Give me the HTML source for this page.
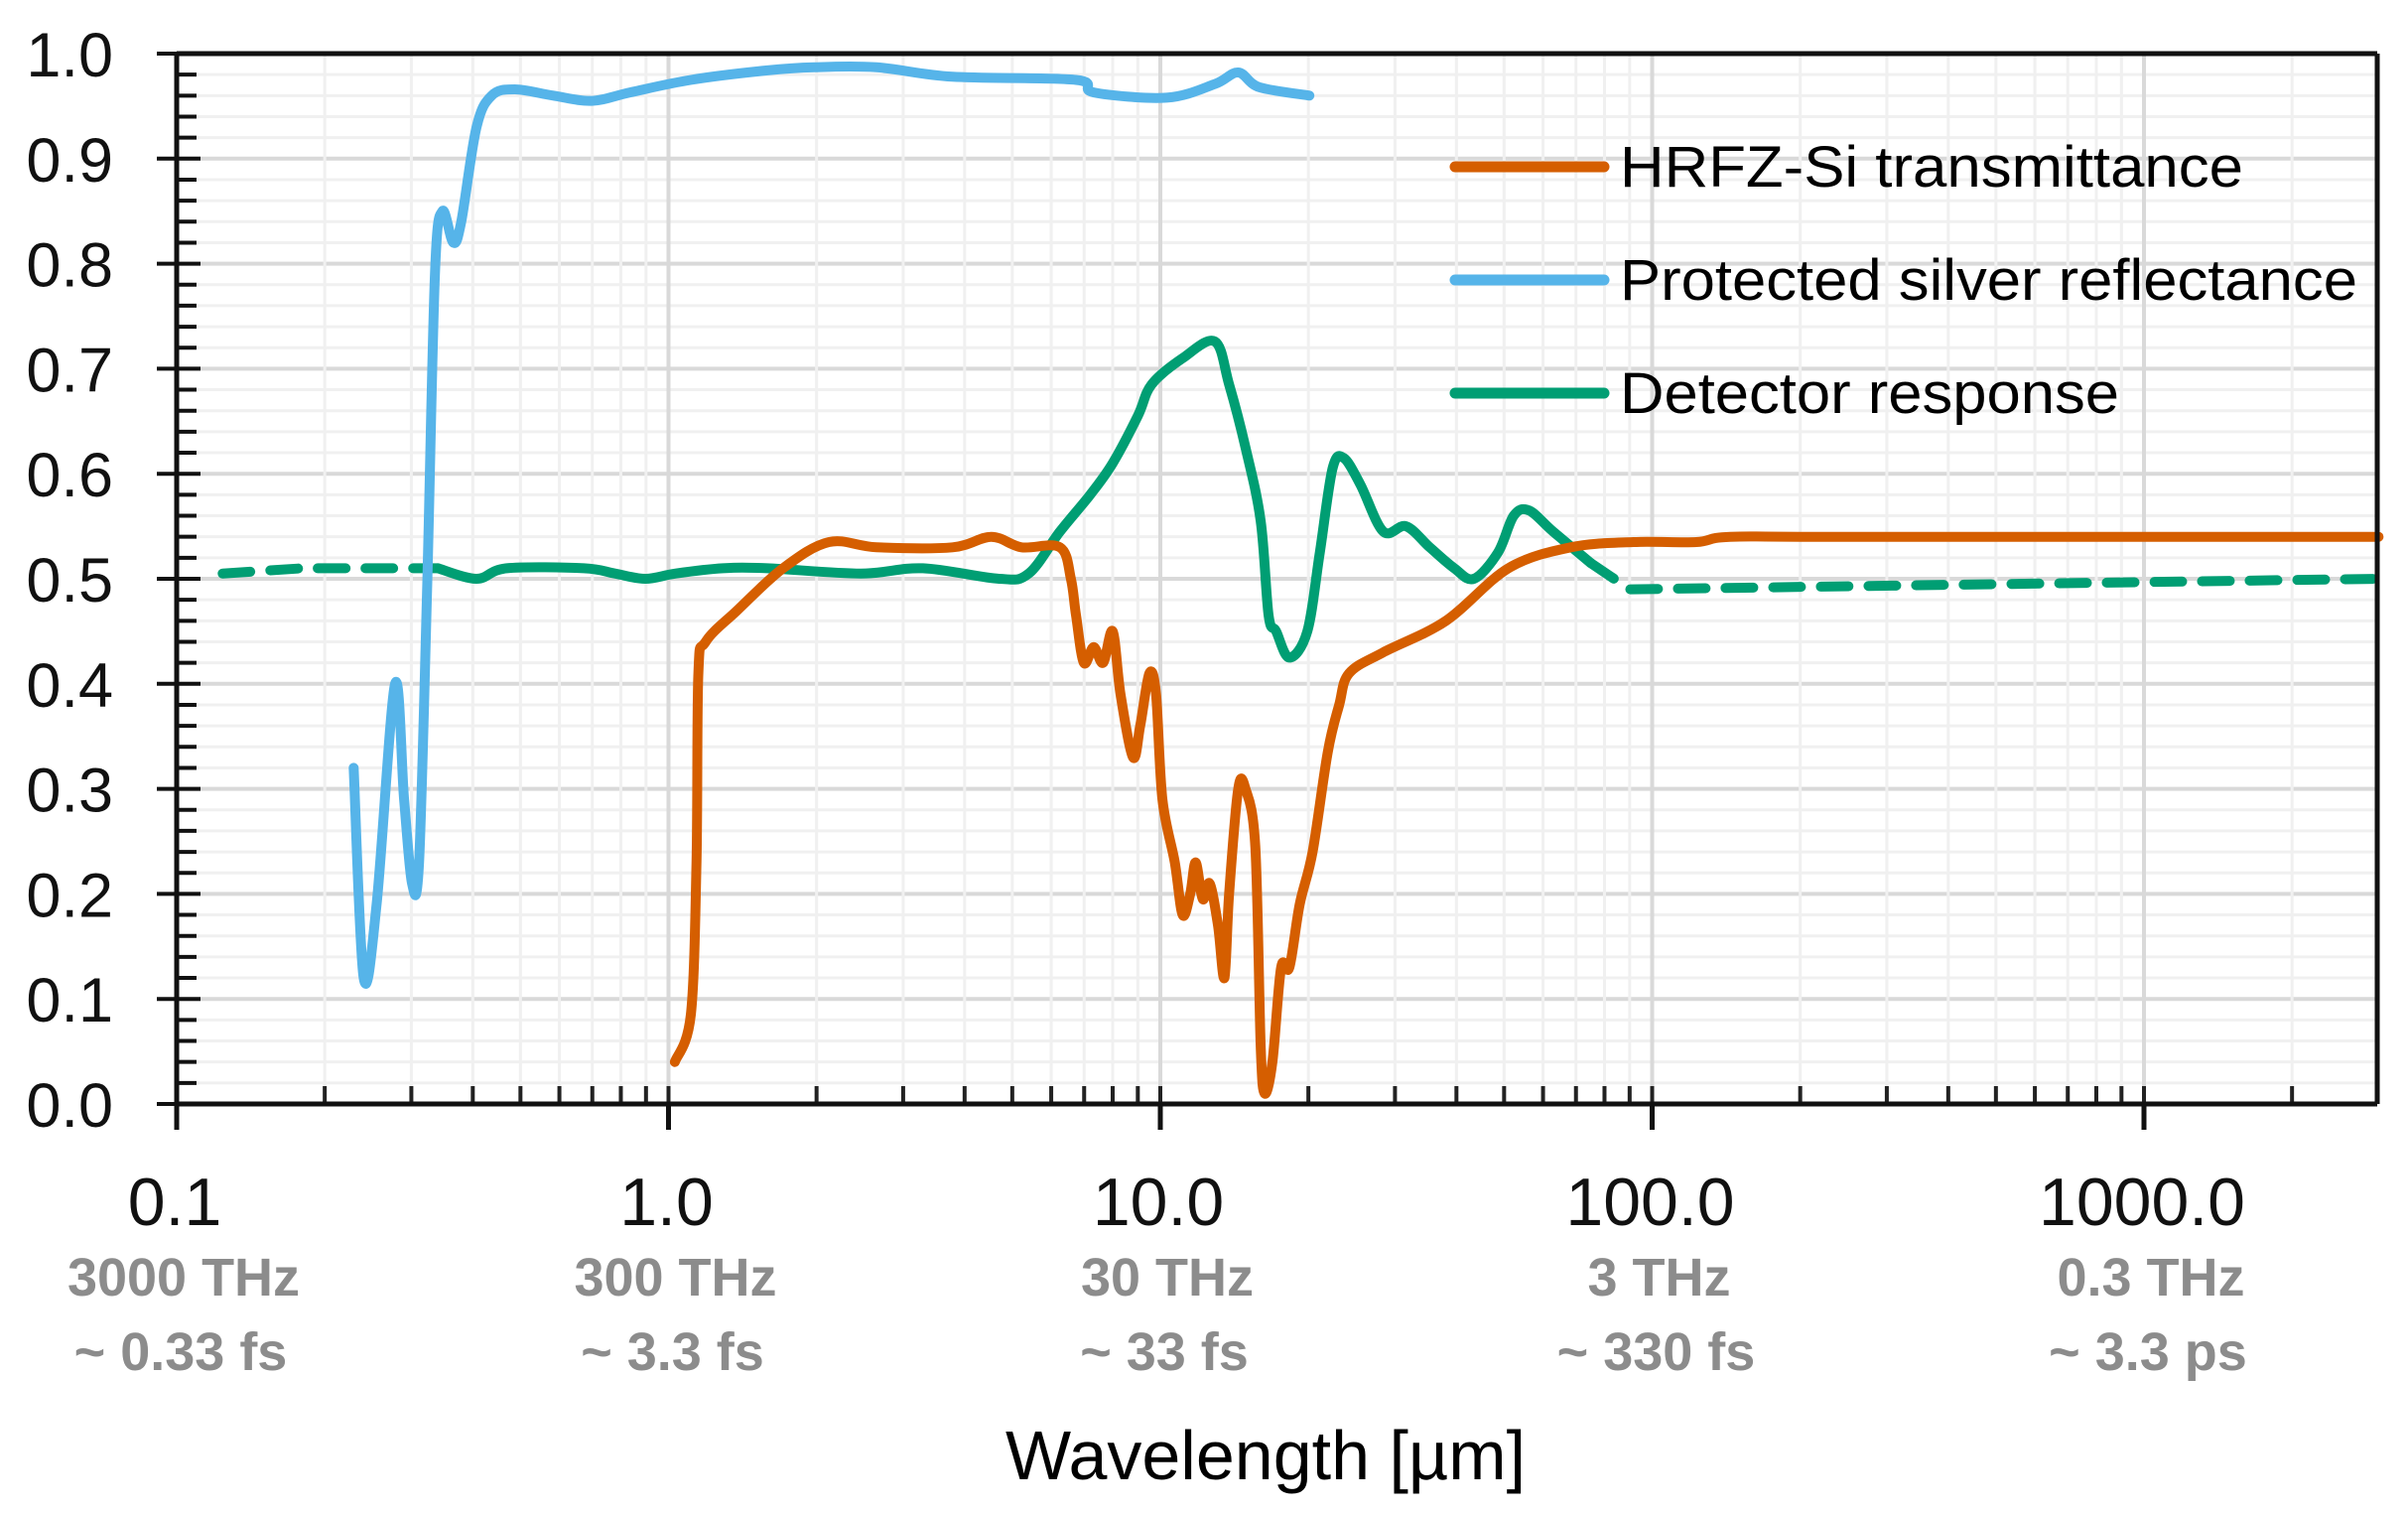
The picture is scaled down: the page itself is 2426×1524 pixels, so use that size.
<!DOCTYPE html>
<html><head><meta charset="utf-8"><style>
html,body{margin:0;padding:0;background:#fff;}
svg{display:block;}
text{font-family:"Liberation Sans",sans-serif;}
</style></head><body>
<svg id="chart" width="2426" height="1524" viewBox="0 0 2426 1524" xmlns="http://www.w3.org/2000/svg">
<g id="grid"></g>
<g id="series"></g>
<g id="axes"></g>
<g id="legend">
 <line x1="1466" y1="168" x2="1616" y2="168" stroke="#d55e00" stroke-width="11" stroke-linecap="round"/>
 <text x="1632" y="188" font-size="58" textLength="628" lengthAdjust="spacingAndGlyphs">HRFZ-Si transmittance</text>
 <line x1="1466" y1="282" x2="1616" y2="282" stroke="#56b4e9" stroke-width="11" stroke-linecap="round"/>
 <text x="1632" y="302" font-size="58" textLength="743" lengthAdjust="spacingAndGlyphs">Protected silver reflectance</text>
 <line x1="1466" y1="396" x2="1616" y2="396" stroke="#009e73" stroke-width="11" stroke-linecap="round"/>
 <text x="1632" y="416" font-size="58" textLength="503" lengthAdjust="spacingAndGlyphs">Detector response</text>
</g>
<text x="1275" y="1490" font-size="70" text-anchor="middle">Wavelength [µm]</text>
</svg>
<script>
const NS="http://www.w3.org/2000/svg";
const xTicks=[0.1,1,10,100,1000];
const xTickLabels=["0.1","1.0","10.0","100.0","1000.0"];
const freqLabels=["3000 THz","300 THz","30 THz","3 THz","0.3 THz"];
const timeLabels=["~ 0.33 fs","~ 3.3 fs","~ 33 fs","~ 330 fs","~ 3.3 ps"];
const yTicks=[0,0.1,0.2,0.3,0.4,0.5,0.6,0.7,0.8,0.9,1.0];
const siX=[1.03,1.11,1.14,1.15,1.19,1.38,1.71,2.12,2.65,3.78,4.53,5.22,6.25,6.58,6.74,6.99,7.32,7.65,8.0,8.3,8.8,9.1,9.5,9.8,10.1,10.7,11.1,11.5,11.8,12.2,12.6,13.1,13.5,13.8,14.4,14.9,15.6,16.0,16.3,16.9,17.6,18.3,19.2,20.4,21.9,23.1,24.2,28.4,38.1,51.0,68.3,91.6,123,144,245,3000];
const siY=[0.04,0.085,0.23,0.41,0.44,0.47,0.51,0.535,0.53,0.53,0.54,0.53,0.53,0.50,0.465,0.42,0.435,0.42,0.45,0.39,0.33,0.36,0.41,0.39,0.29,0.23,0.18,0.20,0.23,0.195,0.21,0.17,0.12,0.20,0.30,0.30,0.245,0.055,0.01,0.04,0.13,0.13,0.19,0.24,0.335,0.38,0.41,0.43,0.46,0.51,0.53,0.535,0.535,0.54,0.54,0.54];
const agX=[0.229,0.240,0.255,0.278,0.290,0.301,0.311,0.323,0.335,0.347,0.365,0.379,0.407,0.437,0.487,0.583,0.698,0.835,1.11,1.59,1.98,2.65,3.78,6.74,7.32,10.3,12.9,14.4,15.9,20.1];
const agY=[0.32,0.12,0.19,0.40,0.29,0.21,0.23,0.49,0.79,0.85,0.82,0.84,0.93,0.96,0.966,0.96,0.955,0.963,0.975,0.984,0.987,0.987,0.978,0.975,0.963,0.958,0.971,0.982,0.968,0.96];
const detX=[0.34,0.407,0.469,0.673,0.778,0.897,1.034,1.29,1.59,2.46,3.29,4.7,5.4,6.25,7.2,8.0,9.0,9.6,11.1,12.9,13.8,14.9,16.0,16.6,17.2,18.3,19.9,21.1,22.4,23.6,25.5,28.4,31.6,35.3,39.6,43.4,48.6,52.3,56.2,62.9,75];
const detY=[0.51,0.50,0.51,0.51,0.505,0.50,0.505,0.51,0.51,0.505,0.51,0.50,0.505,0.545,0.58,0.61,0.655,0.685,0.71,0.726,0.685,0.625,0.555,0.465,0.45,0.425,0.45,0.525,0.605,0.615,0.59,0.545,0.55,0.53,0.51,0.50,0.525,0.56,0.565,0.545,0.515];
const detDashLX=[0.124,0.18,0.25,0.34];
const detDashLY=[0.505,0.51,0.51,0.51];
const detDashRX=[75,90,3000];
const detDashRY=[0.515,0.49,0.50];

const X0=178,DEC=495.5,Y0=1112,Y1=54,XMAX=2395;
function sx(v){return X0+(Math.log10(v)+1)*DEC;}
function sy(v){return Y0-(Y0-Y1)*v;}
function mk(tag,attrs,parent){const e=document.createElementNS(NS,tag);for(const k in attrs)e.setAttribute(k,attrs[k]);parent.appendChild(e);return e;}
const grid=document.getElementById('grid'),axes=document.getElementById('axes'),series=document.getElementById('series');
for(let i=1;i<=50;i++){const v=i*0.02;const major=i%5===0;
 const l=mk('line',{x1:X0,x2:XMAX,y1:sy(v),y2:sy(v),stroke:major?'#d9d9d9':'#f0f0f0','stroke-width':major?4:3},grid);
 
 }
for(let d=-1;d<=3;d++){for(let m=1;m<=9;m++){const v=m*Math.pow(10,d);const px=sx(v);if(px>XMAX-1||px<X0+1)continue;
 const l=mk('line',{x1:px,x2:px,y1:Y1,y2:Y0,stroke:m===1?'#d9d9d9':'#f0f0f0','stroke-width':m===1?4:3},grid);
 
 
 const t=mk('line',{x1:px,x2:px,y1:Y0,y2:Y0-18,stroke:'#222','stroke-width':4},axes);
 
 }}
function path(xs,ys,color,dash,name){
 const P=xs.map((x,i)=>[sx(x),sy(ys[i])]);
 let d='M'+P[0][0].toFixed(1)+' '+P[0][1].toFixed(1);
 for(let i=0;i<P.length-1;i++){const p0=P[i-1]||P[i],p1=P[i],p2=P[i+1],p3=P[i+2]||p2;const k=dash?0:1/6;
  const c1=[p1[0]+(p2[0]-p0[0])*k,p1[1]+(p2[1]-p0[1])*k],c2=[p2[0]-(p3[0]-p1[0])*k,p2[1]-(p3[1]-p1[1])*k];
  d+='C'+c1[0].toFixed(1)+' '+c1[1].toFixed(1)+' '+c2[0].toFixed(1)+' '+c2[1].toFixed(1)+' '+p2[0].toFixed(1)+' '+p2[1].toFixed(1);}
 const p=mk('path',{d:d,fill:'none',stroke:color,'stroke-width':10,'stroke-linejoin':'round','stroke-linecap':'round'},series);
 if(dash)p.setAttribute('stroke-dasharray','28 20');
 
 }
path(detDashLX,detDashLY,'#009e73',true,'detector-dashed-left');
path(detDashRX,detDashRY,'#009e73',true,'detector-dashed-right');
path(detX,detY,'#009e73',false,'detector-response-line');
path(siX,siY,'#d55e00',false,'hrfz-si-line');
path(agX,agY,'#56b4e9',false,'silver-reflectance-line');
const fr=[[X0,Y1,XMAX,Y1],[XMAX,Y1,XMAX,Y0],[X0,Y1,X0,Y0],[X0,Y0,XMAX,Y0]];
fr.forEach(f=>{const l=mk('line',{x1:f[0],y1:f[1],x2:f[2],y2:f[3],stroke:'#111','stroke-width':5},axes);
 
 });
for(let i=0;i<=50;i++){const v=i*0.02;const major=i%5===0;
 const t=mk('line',{x1:major?X0-20:X0,x2:major?X0+24:X0+20,y1:sy(v),y2:sy(v),stroke:'#111','stroke-width':4},axes);
 
 }
yTicks.forEach(v=>{const t=mk('text',{x:114,y:sy(v)+23,'font-size':63,'text-anchor':'end',fill:'#111'},axes);t.textContent=v.toFixed(1);
 
 });
xTicks.forEach((v,i)=>{const px=sx(v);
 const t=mk('line',{x1:px,x2:px,y1:Y0,y2:Y0+26,stroke:'#111','stroke-width':5},axes);
 
 
 const a=mk('text',{x:px-2,y:1234,'font-size':68,'text-anchor':'middle',fill:'#111'},axes);a.textContent=xTickLabels[i];
 
 
 const b=mk('text',{x:px+7,y:1305,'font-size':54,'text-anchor':'middle',fill:'#8c8c8c','font-weight':'bold',textLength:0},axes);b.removeAttribute('textLength');b.textContent=freqLabels[i];
 
 
 const c=mk('text',{x:px+4,y:1380,'font-size':54,'text-anchor':'middle',fill:'#8c8c8c','font-weight':'bold'},axes);c.textContent=timeLabels[i];
 
 });
</script>
</body></html>
